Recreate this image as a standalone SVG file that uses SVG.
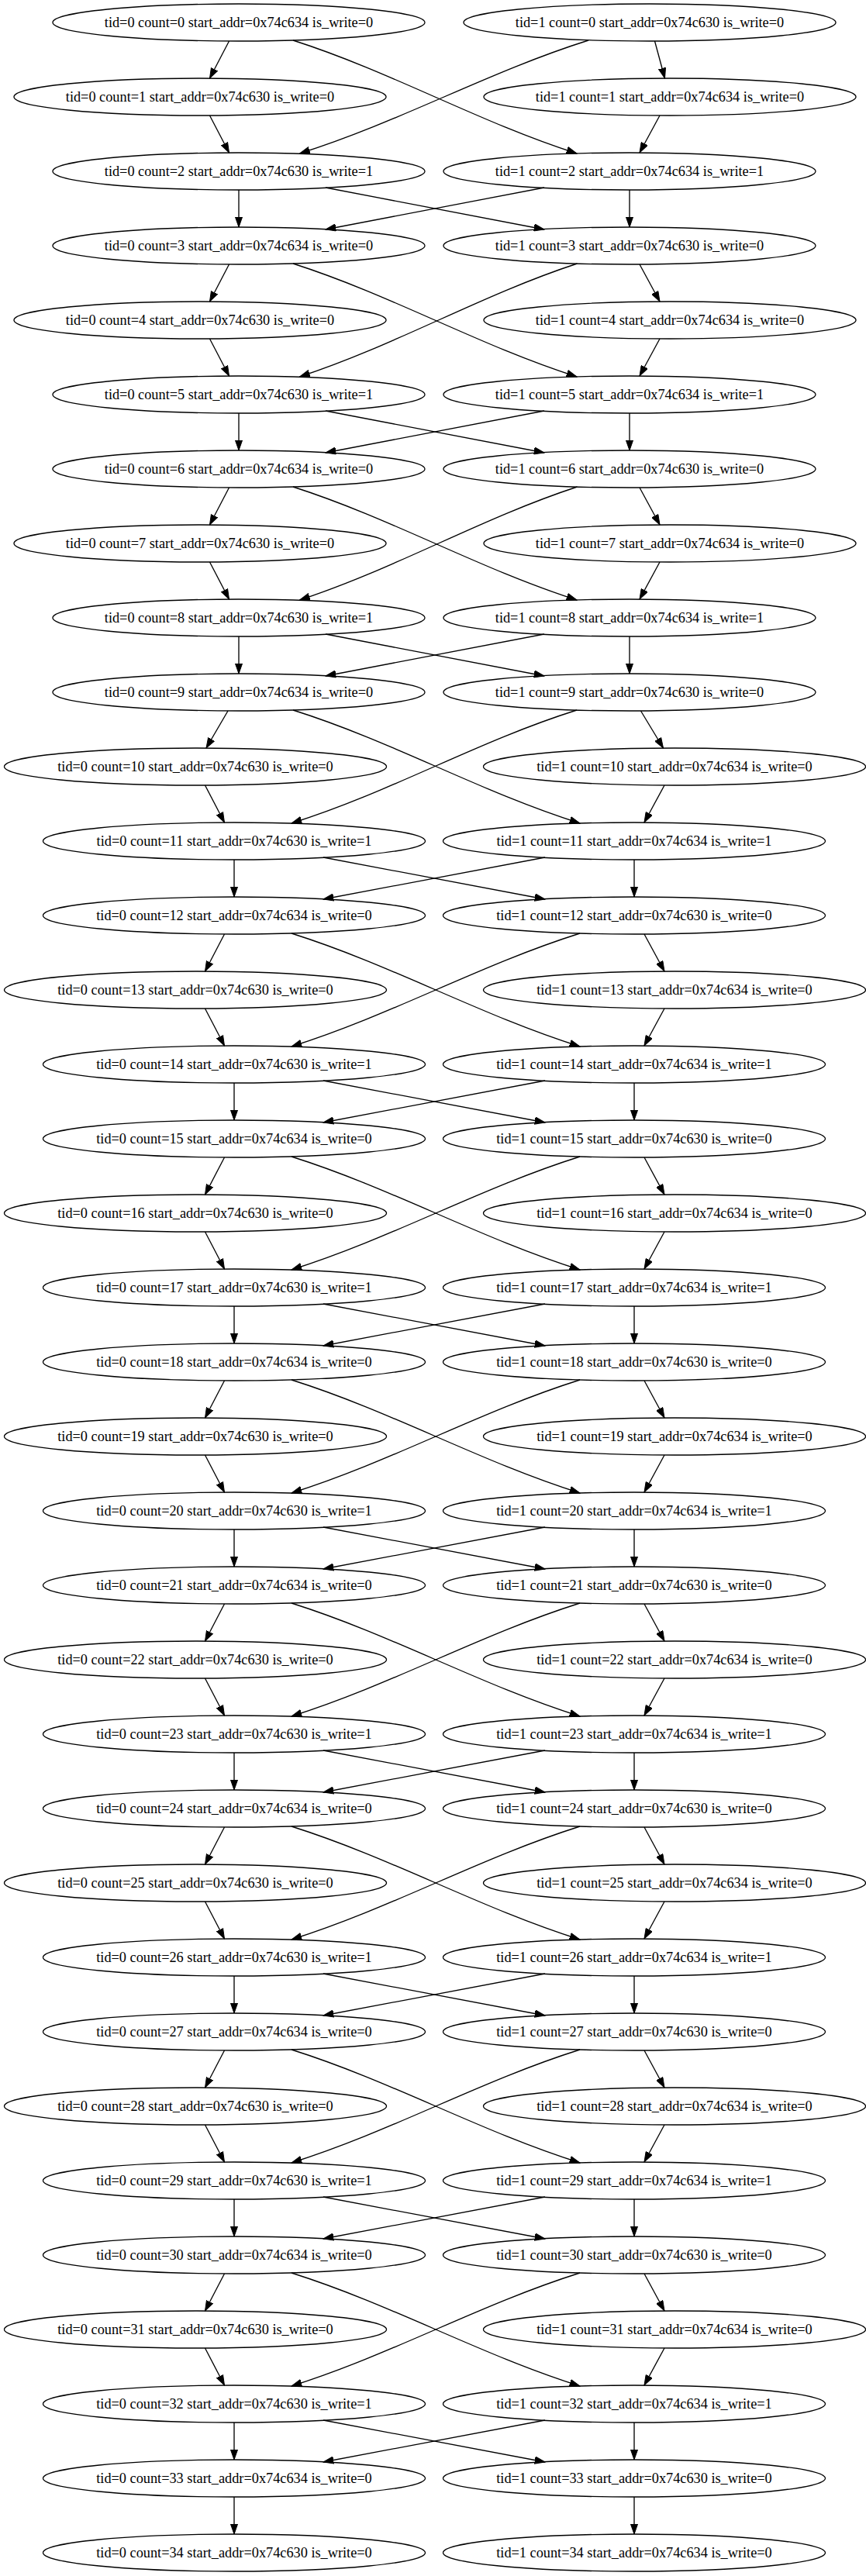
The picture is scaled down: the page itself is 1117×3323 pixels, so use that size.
<svg xmlns="http://www.w3.org/2000/svg" width="1117" height="3323" viewBox="0 0 1117 3323">
<style>
.n ellipse{fill:none;stroke:#000;stroke-width:1.33}
.n text{font-family:"Liberation Serif","Times New Roman",serif;font-size:18.3px;text-anchor:middle;fill:#000}
#edges path{fill:none;stroke:#000;stroke-width:1.33;marker-end:url(#ah)}
</style>
<defs>
<marker id="ah" markerUnits="userSpaceOnUse" viewBox="0 0 14 10" markerWidth="14" markerHeight="10" refX="13.33" refY="5" orient="auto"><path d="M0,0.33 L13.33,5 L0,9.67 z" fill="#000" stroke="#000" stroke-width="1"/></marker>
</defs>
<rect width="1117" height="3323" fill="#fff"/>
<g id="edges">
<path d="M295.5,53 L270.5,101"/><path d="M844.5,53 L857.5,101"/>
<path d="M378,52 C506,93 616,157 744,198"/><path d="M759,52 C629,93 516.5,157 386.5,198"/>
<path d="M270.5,149 L295.5,197"/><path d="M851,149 L825,197"/>
<path d="M308,245 L308,293"/><path d="M812,245 L812,293"/><path d="M420,242 L702,296"/><path d="M702,242 L420,296"/>
<path d="M295.5,341 L270.5,389"/><path d="M825,341 L851,389"/>
<path d="M378,340 C506,381 616,445 744,486"/><path d="M744.5,340 C619.5,381 511.5,445 386.5,486"/>
<path d="M270.5,437 L295.5,485"/><path d="M851,437 L825,485"/>
<path d="M308,533 L308,581"/><path d="M812,533 L812,581"/><path d="M420,530 L702,584"/><path d="M702,530 L420,584"/>
<path d="M295.5,629 L270.5,677"/><path d="M825,629 L851,677"/>
<path d="M378,628 C506,669 616,733 744,774"/><path d="M744.5,628 C619.5,669 511.5,733 386.5,774"/>
<path d="M270.5,725 L295.5,773"/><path d="M851,725 L825,773"/>
<path d="M308,821 L308,869"/><path d="M812,821 L812,869"/><path d="M420,818 L702,872"/><path d="M702,818 L420,872"/>
<path d="M294,917 L266,965"/><path d="M826.5,917 L855.5,965"/>
<path d="M378,916 C508,957 618,1021 748,1062"/><path d="M744,916 C614,957 506,1021 376,1062"/>
<path d="M264.5,1013 L289.5,1061"/><path d="M857,1013 L831,1061"/>
<path d="M302,1109 L302,1157"/><path d="M818,1109 L818,1157"/><path d="M417,1106 L703,1160"/><path d="M703,1106 L417,1160"/>
<path d="M289.5,1205 L264.5,1253"/><path d="M831,1205 L857,1253"/>
<path d="M376,1204 C506,1245 618,1309 748,1350"/><path d="M748,1204 C618,1245 506,1309 376,1350"/>
<path d="M264.5,1301 L289.5,1349"/><path d="M857,1301 L831,1349"/>
<path d="M302,1397 L302,1445"/><path d="M818,1397 L818,1445"/><path d="M417,1394 L703,1448"/><path d="M703,1394 L417,1448"/>
<path d="M289.5,1493 L264.5,1541"/><path d="M831,1493 L857,1541"/>
<path d="M376,1492 C506,1533 618,1597 748,1638"/><path d="M748,1492 C618,1533 506,1597 376,1638"/>
<path d="M264.5,1589 L289.5,1637"/><path d="M857,1589 L831,1637"/>
<path d="M302,1685 L302,1733"/><path d="M818,1685 L818,1733"/><path d="M417,1682 L703,1736"/><path d="M703,1682 L417,1736"/>
<path d="M289.5,1781 L264.5,1829"/><path d="M831,1781 L857,1829"/>
<path d="M376,1780 C506,1821 618,1885 748,1926"/><path d="M748,1780 C618,1821 506,1885 376,1926"/>
<path d="M264.5,1877 L289.5,1925"/><path d="M857,1877 L831,1925"/>
<path d="M302,1973 L302,2021"/><path d="M818,1973 L818,2021"/><path d="M417,1970 L703,2024"/><path d="M703,1970 L417,2024"/>
<path d="M289.5,2069 L264.5,2117"/><path d="M831,2069 L857,2117"/>
<path d="M376,2068 C506,2109 618,2173 748,2214"/><path d="M748,2068 C618,2109 506,2173 376,2214"/>
<path d="M264.5,2165 L289.5,2213"/><path d="M857,2165 L831,2213"/>
<path d="M302,2261 L302,2309"/><path d="M818,2261 L818,2309"/><path d="M417,2258 L703,2312"/><path d="M703,2258 L417,2312"/>
<path d="M289.5,2357 L264.5,2405"/><path d="M831,2357 L857,2405"/>
<path d="M376,2356 C506,2397 618,2461 748,2502"/><path d="M748,2356 C618,2397 506,2461 376,2502"/>
<path d="M264.5,2453 L289.5,2501"/><path d="M857,2453 L831,2501"/>
<path d="M302,2549 L302,2597"/><path d="M818,2549 L818,2597"/><path d="M417,2546 L703,2600"/><path d="M703,2546 L417,2600"/>
<path d="M289.5,2645 L264.5,2693"/><path d="M831,2645 L857,2693"/>
<path d="M376,2644 C506,2685 618,2749 748,2790"/><path d="M748,2644 C618,2685 506,2749 376,2790"/>
<path d="M264.5,2741 L289.5,2789"/><path d="M857,2741 L831,2789"/>
<path d="M302,2837 L302,2885"/><path d="M818,2837 L818,2885"/><path d="M417,2834 L703,2888"/><path d="M703,2834 L417,2888"/>
<path d="M289.5,2933 L264.5,2981"/><path d="M831,2933 L857,2981"/>
<path d="M376,2932 C506,2973 618,3037 748,3078"/><path d="M748,2932 C618,2973 506,3037 376,3078"/>
<path d="M264.5,3029 L289.5,3077"/><path d="M857,3029 L831,3077"/>
<path d="M302,3125 L302,3173"/><path d="M818,3125 L818,3173"/><path d="M417,3122 L703,3176"/><path d="M703,3122 L417,3176"/>
<path d="M302,3221 L302,3269"/><path d="M818,3221 L818,3269"/>
</g>
<g id="t0_0" class="n"><ellipse cx="308" cy="29" rx="240" ry="24"/><text x="308" y="35">tid=0 count=0 start_addr=0x74c634 is_write=0</text></g>
<g id="t1_0" class="n"><ellipse cx="838" cy="29" rx="240" ry="24"/><text x="838" y="35">tid=1 count=0 start_addr=0x74c630 is_write=0</text></g>
<g id="t0_1" class="n"><ellipse cx="258" cy="125" rx="240" ry="24"/><text x="258" y="131">tid=0 count=1 start_addr=0x74c630 is_write=0</text></g>
<g id="t1_1" class="n"><ellipse cx="864" cy="125" rx="240" ry="24"/><text x="864" y="131">tid=1 count=1 start_addr=0x74c634 is_write=0</text></g>
<g id="t0_2" class="n"><ellipse cx="308" cy="221" rx="240" ry="24"/><text x="308" y="227">tid=0 count=2 start_addr=0x74c630 is_write=1</text></g>
<g id="t1_2" class="n"><ellipse cx="812" cy="221" rx="240" ry="24"/><text x="812" y="227">tid=1 count=2 start_addr=0x74c634 is_write=1</text></g>
<g id="t0_3" class="n"><ellipse cx="308" cy="317" rx="240" ry="24"/><text x="308" y="323">tid=0 count=3 start_addr=0x74c634 is_write=0</text></g>
<g id="t1_3" class="n"><ellipse cx="812" cy="317" rx="240" ry="24"/><text x="812" y="323">tid=1 count=3 start_addr=0x74c630 is_write=0</text></g>
<g id="t0_4" class="n"><ellipse cx="258" cy="413" rx="240" ry="24"/><text x="258" y="419">tid=0 count=4 start_addr=0x74c630 is_write=0</text></g>
<g id="t1_4" class="n"><ellipse cx="864" cy="413" rx="240" ry="24"/><text x="864" y="419">tid=1 count=4 start_addr=0x74c634 is_write=0</text></g>
<g id="t0_5" class="n"><ellipse cx="308" cy="509" rx="240" ry="24"/><text x="308" y="515">tid=0 count=5 start_addr=0x74c630 is_write=1</text></g>
<g id="t1_5" class="n"><ellipse cx="812" cy="509" rx="240" ry="24"/><text x="812" y="515">tid=1 count=5 start_addr=0x74c634 is_write=1</text></g>
<g id="t0_6" class="n"><ellipse cx="308" cy="605" rx="240" ry="24"/><text x="308" y="611">tid=0 count=6 start_addr=0x74c634 is_write=0</text></g>
<g id="t1_6" class="n"><ellipse cx="812" cy="605" rx="240" ry="24"/><text x="812" y="611">tid=1 count=6 start_addr=0x74c630 is_write=0</text></g>
<g id="t0_7" class="n"><ellipse cx="258" cy="701" rx="240" ry="24"/><text x="258" y="707">tid=0 count=7 start_addr=0x74c630 is_write=0</text></g>
<g id="t1_7" class="n"><ellipse cx="864" cy="701" rx="240" ry="24"/><text x="864" y="707">tid=1 count=7 start_addr=0x74c634 is_write=0</text></g>
<g id="t0_8" class="n"><ellipse cx="308" cy="797" rx="240" ry="24"/><text x="308" y="803">tid=0 count=8 start_addr=0x74c630 is_write=1</text></g>
<g id="t1_8" class="n"><ellipse cx="812" cy="797" rx="240" ry="24"/><text x="812" y="803">tid=1 count=8 start_addr=0x74c634 is_write=1</text></g>
<g id="t0_9" class="n"><ellipse cx="308" cy="893" rx="240" ry="24"/><text x="308" y="899">tid=0 count=9 start_addr=0x74c634 is_write=0</text></g>
<g id="t1_9" class="n"><ellipse cx="812" cy="893" rx="240" ry="24"/><text x="812" y="899">tid=1 count=9 start_addr=0x74c630 is_write=0</text></g>
<g id="t0_10" class="n"><ellipse cx="252" cy="989" rx="246.5" ry="24"/><text x="252" y="995">tid=0 count=10 start_addr=0x74c630 is_write=0</text></g>
<g id="t1_10" class="n"><ellipse cx="870" cy="989" rx="246.5" ry="24"/><text x="870" y="995">tid=1 count=10 start_addr=0x74c634 is_write=0</text></g>
<g id="t0_11" class="n"><ellipse cx="302" cy="1085" rx="246.5" ry="24"/><text x="302" y="1091">tid=0 count=11 start_addr=0x74c630 is_write=1</text></g>
<g id="t1_11" class="n"><ellipse cx="818" cy="1085" rx="246.5" ry="24"/><text x="818" y="1091">tid=1 count=11 start_addr=0x74c634 is_write=1</text></g>
<g id="t0_12" class="n"><ellipse cx="302" cy="1181" rx="246.5" ry="24"/><text x="302" y="1187">tid=0 count=12 start_addr=0x74c634 is_write=0</text></g>
<g id="t1_12" class="n"><ellipse cx="818" cy="1181" rx="246.5" ry="24"/><text x="818" y="1187">tid=1 count=12 start_addr=0x74c630 is_write=0</text></g>
<g id="t0_13" class="n"><ellipse cx="252" cy="1277" rx="246.5" ry="24"/><text x="252" y="1283">tid=0 count=13 start_addr=0x74c630 is_write=0</text></g>
<g id="t1_13" class="n"><ellipse cx="870" cy="1277" rx="246.5" ry="24"/><text x="870" y="1283">tid=1 count=13 start_addr=0x74c634 is_write=0</text></g>
<g id="t0_14" class="n"><ellipse cx="302" cy="1373" rx="246.5" ry="24"/><text x="302" y="1379">tid=0 count=14 start_addr=0x74c630 is_write=1</text></g>
<g id="t1_14" class="n"><ellipse cx="818" cy="1373" rx="246.5" ry="24"/><text x="818" y="1379">tid=1 count=14 start_addr=0x74c634 is_write=1</text></g>
<g id="t0_15" class="n"><ellipse cx="302" cy="1469" rx="246.5" ry="24"/><text x="302" y="1475">tid=0 count=15 start_addr=0x74c634 is_write=0</text></g>
<g id="t1_15" class="n"><ellipse cx="818" cy="1469" rx="246.5" ry="24"/><text x="818" y="1475">tid=1 count=15 start_addr=0x74c630 is_write=0</text></g>
<g id="t0_16" class="n"><ellipse cx="252" cy="1565" rx="246.5" ry="24"/><text x="252" y="1571">tid=0 count=16 start_addr=0x74c630 is_write=0</text></g>
<g id="t1_16" class="n"><ellipse cx="870" cy="1565" rx="246.5" ry="24"/><text x="870" y="1571">tid=1 count=16 start_addr=0x74c634 is_write=0</text></g>
<g id="t0_17" class="n"><ellipse cx="302" cy="1661" rx="246.5" ry="24"/><text x="302" y="1667">tid=0 count=17 start_addr=0x74c630 is_write=1</text></g>
<g id="t1_17" class="n"><ellipse cx="818" cy="1661" rx="246.5" ry="24"/><text x="818" y="1667">tid=1 count=17 start_addr=0x74c634 is_write=1</text></g>
<g id="t0_18" class="n"><ellipse cx="302" cy="1757" rx="246.5" ry="24"/><text x="302" y="1763">tid=0 count=18 start_addr=0x74c634 is_write=0</text></g>
<g id="t1_18" class="n"><ellipse cx="818" cy="1757" rx="246.5" ry="24"/><text x="818" y="1763">tid=1 count=18 start_addr=0x74c630 is_write=0</text></g>
<g id="t0_19" class="n"><ellipse cx="252" cy="1853" rx="246.5" ry="24"/><text x="252" y="1859">tid=0 count=19 start_addr=0x74c630 is_write=0</text></g>
<g id="t1_19" class="n"><ellipse cx="870" cy="1853" rx="246.5" ry="24"/><text x="870" y="1859">tid=1 count=19 start_addr=0x74c634 is_write=0</text></g>
<g id="t0_20" class="n"><ellipse cx="302" cy="1949" rx="246.5" ry="24"/><text x="302" y="1955">tid=0 count=20 start_addr=0x74c630 is_write=1</text></g>
<g id="t1_20" class="n"><ellipse cx="818" cy="1949" rx="246.5" ry="24"/><text x="818" y="1955">tid=1 count=20 start_addr=0x74c634 is_write=1</text></g>
<g id="t0_21" class="n"><ellipse cx="302" cy="2045" rx="246.5" ry="24"/><text x="302" y="2051">tid=0 count=21 start_addr=0x74c634 is_write=0</text></g>
<g id="t1_21" class="n"><ellipse cx="818" cy="2045" rx="246.5" ry="24"/><text x="818" y="2051">tid=1 count=21 start_addr=0x74c630 is_write=0</text></g>
<g id="t0_22" class="n"><ellipse cx="252" cy="2141" rx="246.5" ry="24"/><text x="252" y="2147">tid=0 count=22 start_addr=0x74c630 is_write=0</text></g>
<g id="t1_22" class="n"><ellipse cx="870" cy="2141" rx="246.5" ry="24"/><text x="870" y="2147">tid=1 count=22 start_addr=0x74c634 is_write=0</text></g>
<g id="t0_23" class="n"><ellipse cx="302" cy="2237" rx="246.5" ry="24"/><text x="302" y="2243">tid=0 count=23 start_addr=0x74c630 is_write=1</text></g>
<g id="t1_23" class="n"><ellipse cx="818" cy="2237" rx="246.5" ry="24"/><text x="818" y="2243">tid=1 count=23 start_addr=0x74c634 is_write=1</text></g>
<g id="t0_24" class="n"><ellipse cx="302" cy="2333" rx="246.5" ry="24"/><text x="302" y="2339">tid=0 count=24 start_addr=0x74c634 is_write=0</text></g>
<g id="t1_24" class="n"><ellipse cx="818" cy="2333" rx="246.5" ry="24"/><text x="818" y="2339">tid=1 count=24 start_addr=0x74c630 is_write=0</text></g>
<g id="t0_25" class="n"><ellipse cx="252" cy="2429" rx="246.5" ry="24"/><text x="252" y="2435">tid=0 count=25 start_addr=0x74c630 is_write=0</text></g>
<g id="t1_25" class="n"><ellipse cx="870" cy="2429" rx="246.5" ry="24"/><text x="870" y="2435">tid=1 count=25 start_addr=0x74c634 is_write=0</text></g>
<g id="t0_26" class="n"><ellipse cx="302" cy="2525" rx="246.5" ry="24"/><text x="302" y="2531">tid=0 count=26 start_addr=0x74c630 is_write=1</text></g>
<g id="t1_26" class="n"><ellipse cx="818" cy="2525" rx="246.5" ry="24"/><text x="818" y="2531">tid=1 count=26 start_addr=0x74c634 is_write=1</text></g>
<g id="t0_27" class="n"><ellipse cx="302" cy="2621" rx="246.5" ry="24"/><text x="302" y="2627">tid=0 count=27 start_addr=0x74c634 is_write=0</text></g>
<g id="t1_27" class="n"><ellipse cx="818" cy="2621" rx="246.5" ry="24"/><text x="818" y="2627">tid=1 count=27 start_addr=0x74c630 is_write=0</text></g>
<g id="t0_28" class="n"><ellipse cx="252" cy="2717" rx="246.5" ry="24"/><text x="252" y="2723">tid=0 count=28 start_addr=0x74c630 is_write=0</text></g>
<g id="t1_28" class="n"><ellipse cx="870" cy="2717" rx="246.5" ry="24"/><text x="870" y="2723">tid=1 count=28 start_addr=0x74c634 is_write=0</text></g>
<g id="t0_29" class="n"><ellipse cx="302" cy="2813" rx="246.5" ry="24"/><text x="302" y="2819">tid=0 count=29 start_addr=0x74c630 is_write=1</text></g>
<g id="t1_29" class="n"><ellipse cx="818" cy="2813" rx="246.5" ry="24"/><text x="818" y="2819">tid=1 count=29 start_addr=0x74c634 is_write=1</text></g>
<g id="t0_30" class="n"><ellipse cx="302" cy="2909" rx="246.5" ry="24"/><text x="302" y="2915">tid=0 count=30 start_addr=0x74c634 is_write=0</text></g>
<g id="t1_30" class="n"><ellipse cx="818" cy="2909" rx="246.5" ry="24"/><text x="818" y="2915">tid=1 count=30 start_addr=0x74c630 is_write=0</text></g>
<g id="t0_31" class="n"><ellipse cx="252" cy="3005" rx="246.5" ry="24"/><text x="252" y="3011">tid=0 count=31 start_addr=0x74c630 is_write=0</text></g>
<g id="t1_31" class="n"><ellipse cx="870" cy="3005" rx="246.5" ry="24"/><text x="870" y="3011">tid=1 count=31 start_addr=0x74c634 is_write=0</text></g>
<g id="t0_32" class="n"><ellipse cx="302" cy="3101" rx="246.5" ry="24"/><text x="302" y="3107">tid=0 count=32 start_addr=0x74c630 is_write=1</text></g>
<g id="t1_32" class="n"><ellipse cx="818" cy="3101" rx="246.5" ry="24"/><text x="818" y="3107">tid=1 count=32 start_addr=0x74c634 is_write=1</text></g>
<g id="t0_33" class="n"><ellipse cx="302" cy="3197" rx="246.5" ry="24"/><text x="302" y="3203">tid=0 count=33 start_addr=0x74c634 is_write=0</text></g>
<g id="t1_33" class="n"><ellipse cx="818" cy="3197" rx="246.5" ry="24"/><text x="818" y="3203">tid=1 count=33 start_addr=0x74c630 is_write=0</text></g>
<g id="t0_34" class="n"><ellipse cx="302" cy="3293" rx="246.5" ry="24"/><text x="302" y="3299">tid=0 count=34 start_addr=0x74c630 is_write=0</text></g>
<g id="t1_34" class="n"><ellipse cx="818" cy="3293" rx="246.5" ry="24"/><text x="818" y="3299">tid=1 count=34 start_addr=0x74c634 is_write=0</text></g>
</svg>
